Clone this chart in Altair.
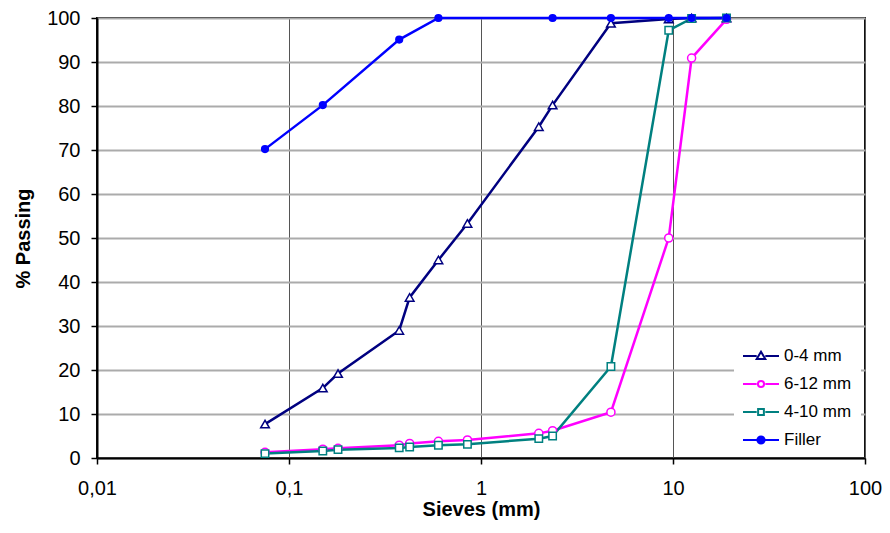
import altair as alt
import pandas as pd

# Sieve sizes (mm)
sizes = [0.075, 0.15, 0.18, 0.375, 0.425, 0.6, 0.85, 2.0, 2.36, 4.75, 9.5, 12.5, 19.0]
p_0_4 = [7.7, 15.9, 19.2, 29.0, 36.5, 45.0, 53.3, 75.3, 80.2, 98.8, 99.8, 100.0, 100.0]
p_6_12 = [1.3, 2.0, 2.2, 2.9, 3.3, 3.8, 4.1, 5.6, 6.2, 10.4, 50.0, 90.9, 99.7]
p_4_10 = [1.0, 1.6, 1.9, 2.3, 2.5, 2.9, 3.1, 4.4, 5.0, 20.8, 97.2, 99.9, 100.0]
filler_sizes = [0.075, 0.15, 0.375, 0.6, 2.36, 4.75, 9.5, 12.5, 19.0]
p_filler = [70.2, 80.2, 95.1, 100.0, 100.0, 100.0, 100.0, 100.0, 100.0]

series = ["0-4 mm", "6-12 mm", "4-10 mm", "Filler"]
colors = ["#000080", "#FF00FF", "#008080", "#0000FF"]
fills = ["#FFFFFF", "#FFFFFF", "#FFFFFF", "#0000FF"]
x_ticks = [0.01, 0.1, 1, 10, 100]
y_ticks = list(range(0, 101, 10))

rows = []
for name, xs, ys in [("0-4 mm", sizes, p_0_4), ("6-12 mm", sizes, p_6_12),
                     ("4-10 mm", sizes, p_4_10), ("Filler", filler_sizes, p_filler)]:
    for xv, yv in zip(xs, ys):
        rows.append({"series": name, "size": xv, "passing": yv})
df = pd.DataFrame(rows)

FONT = "Liberation Sans"

xenc = alt.X("size:Q",
             scale=alt.Scale(type="log", domain=[0.01, 100], nice=False),
             axis=alt.Axis(values=x_ticks, title="Sieves (mm)",
                           labelExpr="replace(format(datum.value, '~g'), '.', ',')",
                           labelFlush=False, labelOverlap=False,
                           grid=True, gridColor="#555555", gridWidth=1,
                           labelPadding=14, titlePadding=1))
yenc = alt.Y("passing:Q",
             scale=alt.Scale(domain=[0, 100], nice=False),
             axis=alt.Axis(values=y_ticks, title="% Passing",
                           labelFlush=False, labelOverlap=False,
                           grid=True, gridColor="#ababab", gridWidth=2,
                           labelPadding=11, titlePadding=13))

stroke_scale = alt.Scale(domain=series, range=colors)
fill_scale = alt.Scale(domain=series, range=fills)

base = alt.Chart(df)

lines = base.mark_line(strokeWidth=2.5).encode(
    x=xenc, y=yenc,
    stroke=alt.Stroke("series:N", scale=stroke_scale, legend=None),
    detail="series:N",
    order=alt.Order("size:Q"),
)

points = base.mark_point(opacity=1, strokeWidth=1.5).encode(
    x=xenc, y=yenc,
    stroke=alt.Stroke("series:N", scale=stroke_scale, legend=None),
    fill=alt.Fill("series:N", scale=fill_scale, legend=None),
    shape=alt.Shape("series:N",
                    scale=alt.Scale(domain=series,
                                    range=["triangle-up", "circle", "square", "circle"]),
                    legend=None),
    size=alt.Size("series:N",
                  scale=alt.Scale(domain=series, range=[75, 45, 45, 60]),
                  legend=None),
)

seg = "M-1,0H-0.24M0.24,0H1"
legend_paths = [
    seg + "M0,-0.24L0.24,0.17L-0.24,0.17Z",
    seg + "M-0.17,0A0.17,0.17,0,1,0,0.17,0A0.17,0.17,0,1,0,-0.17,0Z",
    seg + "M-0.16,-0.16H0.16V0.16H-0.16Z",
    seg + "M-0.2,0A0.2,0.2,0,1,0,0.2,0A0.2,0.2,0,1,0,-0.2,0Z",
]

legend_layer = base.mark_point(opacity=1, strokeWidth=2).encode(
    x=xenc, y=yenc,
    stroke=alt.Stroke("series:N", scale=stroke_scale,
                      legend=alt.Legend(title=None)),
    fill=alt.Fill("series:N", scale=fill_scale, legend=alt.Legend(title=None)),
    shape=alt.Shape("series:N", scale=alt.Scale(domain=series, range=legend_paths),
                    legend=alt.Legend(title=None)),
).transform_filter("false")

chart = alt.layer(lines, points, legend_layer).resolve_scale(
    stroke="independent", fill="independent", shape="independent"
).properties(
    width=768, height=440,
    autosize=alt.AutoSizeParams(type="none"),
    padding={"left": 89, "top": 10, "right": 17, "bottom": 62},
).configure_view(
    stroke="#111111", strokeWidth=2
).configure_axis(
    labelFont=FONT, labelFontSize=20, labelColor="#000000",
    titleFont=FONT, titleFontSize=20, titleFontWeight="bold", titleColor="#000000",
    domainColor="#000000", domainWidth=2,
    tickColor="#000000", tickWidth=1.5, tickSize=6,
).configure_legend(
    orient="none", legendX=637, legendY=311,
    fillColor="#FFFFFF", strokeColor="#FFFFFF", padding=8,
    labelFont=FONT, labelFontSize=17, labelColor="#000000",
    symbolSize=1296, symbolStrokeWidth=2, rowPadding=1, labelOffset=4,
)

chart.save("out.html", embed_options={"renderer": "svg", "actions": False})
